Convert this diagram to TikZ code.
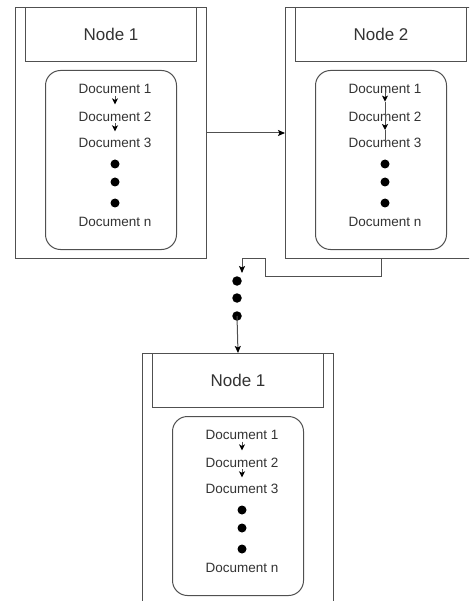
\documentclass[tikz,border=0pt]{standalone}
\usepackage{fontspec}
\setmainfont{Liberation Sans}
\usetikzlibrary{arrows.meta,calc}
\definecolor{ln}{HTML}{505050}
\definecolor{tx}{HTML}{333333}
\tikzset{
  outerbox/.style={draw=ln, line width=1pt, anchor=north west, minimum width=191pt, minimum height=251pt, inner sep=0pt},
  titlebox/.style={draw=ln, line width=1pt, anchor=north west, minimum width=171pt, minimum height=54pt, inner sep=0pt, font=\fontsize{17}{20}\selectfont, text=tx},
  roundbox/.style={draw=ln, line width=1pt, anchor=north west, minimum width=131pt, minimum height=179pt, rounded corners=15pt, inner sep=0pt},
  doc/.style={inner sep=0pt, font=\fontsize{13.5}{16}\selectfont, text=tx},
  dot/.style={circle, fill=black, inner sep=0pt, minimum width=8pt, minimum height=9pt},
  bigdot/.style={circle, fill=black, inner sep=0pt, minimum width=9pt, minimum height=9.5pt},
  arr/.style={draw=ln, line width=1pt, -{Stealth[length=7pt,width=6pt,inset=1.5pt,color=black]}},
  sarr/.style={draw=ln, line width=1pt, -{Stealth[length=6pt,width=6pt,inset=1.5pt,color=black]}},
  pln/.style={draw=ln, line width=1pt}
}
\newcommand\docbox[4]{%
  \node[outerbox] (#1) at (#2,#3) {};
  \node[titlebox] (#1t) at (#2+10,#3) {#4};
  \node[roundbox] (#1r) at (#2+30,#3+63) {};
  \node[doc] (#1d1) at (#2+100,#3+82) {Document 1};
  \node[doc] (#1d2) at (#2+100,#3+110) {Document 2};
  \node[doc] (#1d3) at (#2+100,#3+136) {Document 3};
  \node[dot] (#1g1) at (#2+100,#3+157) {};
  \node[dot] (#1g2) at (#2+100,#3+175) {};
  \node[dot] (#1g3) at (#2+100,#3+196) {};
  \node[doc] (#1dn) at (#2+100,#3+215) {Document n};
}
\begin{document}
\begin{tikzpicture}[x=1pt,y=-1pt]
\useasboundingbox (0,0) rectangle (469,601);
\clip (0,0) rectangle (469,601);
\fill[white] (0,0) rectangle (469,601);
\docbox{b1}{15}{7}{Node 1}
\docbox{b2}{285}{7}{Node 2}
\docbox{b3}{142}{353}{Node 1}
% inner arrows box 1 and 3
\foreach \b in {b1,b3}{
  \draw[sarr] ($(\b d1)!0.24!(\b d2)$) -- ($(\b d1)!0.55!(\b d2)$);
  \draw[sarr] ($(\b d2)!0.24!(\b d3)$) -- ($(\b d2)!0.55!(\b d3)$);
}
% inner arrows box 2 (overlapping text)
\coordinate (t1) at ($(b2d1)!0.45!(b2d2)$);
\coordinate (t2) at ($(b2d2)!0.5!(b2d3)$);
\draw[sarr] ($(b2d1)!0.1!(b2d2)$) -- (t1);
\draw[sarr] (t1) -- (t2);
\draw[pln] (t2) -- ($(b2d2)!0.88!(b2d3)$);
% node 1 -> node 2
\draw[arr] (b1.east) -- (b2.west);
% node 2 -> dots -> node 1
\coordinate (j1) at (265,276);
\coordinate (j2) at (265,258);
\coordinate (tip) at (242,273);
\node[bigdot] (g1) at (237,281) {};
\node[bigdot] (g2) at (237,298) {};
\node[bigdot] (g3) at (237,316) {};
\draw[arr] (b2.south) |- (j1) -- (j2) -| (tip);
\draw[arr] (g3.center) -- (b3.north);
\end{tikzpicture}
\end{document}
